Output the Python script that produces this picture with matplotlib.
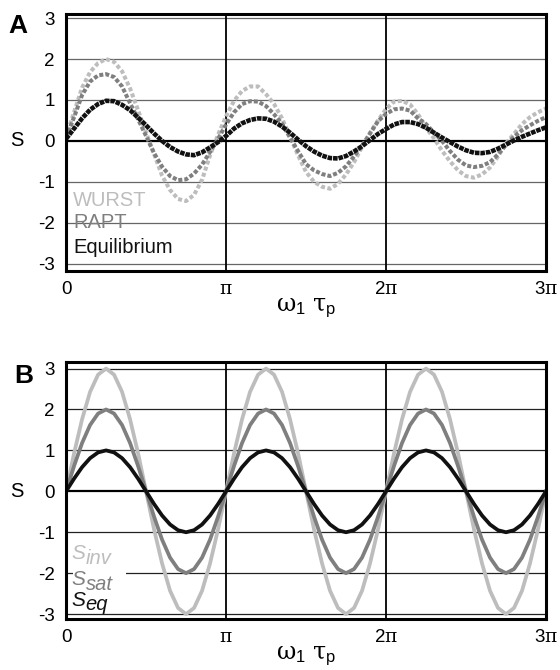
import numpy as np
import matplotlib
matplotlib.use("Agg")
import matplotlib.pyplot as plt
from matplotlib.patches import Rectangle

plt.rcParams['font.family'] = ['Liberation Sans', 'DejaVu Sans']
plt.rcParams['mathtext.fontset'] = 'custom'
plt.rcParams['mathtext.rm'] = 'Liberation Sans'
plt.rcParams['mathtext.it'] = 'DejaVu Serif'

# x positions in units of pi (sampling grid, 0.05 pi)
x_pi = np.linspace(0, 3, 61)

# panel A: simulated signals
wurst = [0.10, 0.70, 1.30, 1.68, 1.90, 2.00, 1.93, 1.70, 1.28, 0.75,
         0.20, -0.32, -0.85, -1.20, -1.42, -1.47, -1.32, -0.95, -0.35, 0.15,
         0.60, 0.98, 1.22, 1.33, 1.33, 1.14, 0.90, 0.55, 0.10, -0.35,
         -0.76, -1.00, -1.12, -1.17, -1.05, -0.82, -0.52, -0.15, 0.20, 0.50,
         0.78, 0.96, 0.98, 0.89, 0.65, 0.32, 0.06, -0.24, -0.50, -0.72,
         -0.86, -0.90, -0.82, -0.65, -0.38, -0.06, 0.17, 0.41, 0.58, 0.70,
         0.79]
rapt = [0.08, 0.58, 1.12, 1.45, 1.60, 1.63, 1.56, 1.33, 0.92, 0.53,
        0.12, -0.30, -0.63, -0.86, -0.96, -0.94, -0.80, -0.58, -0.27, 0.05,
        0.40, 0.70, 0.90, 0.97, 0.96, 0.85, 0.65, 0.42, 0.08, -0.25,
        -0.57, -0.72, -0.81, -0.86, -0.78, -0.62, -0.38, -0.12, 0.18, 0.48,
        0.66, 0.77, 0.79, 0.74, 0.55, 0.41, 0.20, 0.00, -0.25, -0.46,
        -0.60, -0.64, -0.61, -0.52, -0.33, -0.10, 0.10, 0.26, 0.38, 0.49,
        0.58]
equil = [0.05, 0.30, 0.55, 0.76, 0.90, 0.98, 0.97, 0.88, 0.75, 0.57,
         0.38, 0.18, 0.00, -0.15, -0.26, -0.33, -0.35, -0.28, -0.16, -0.03,
         0.12, 0.30, 0.43, 0.51, 0.55, 0.54, 0.47, 0.35, 0.20, 0.03,
         -0.13, -0.26, -0.36, -0.42, -0.43, -0.37, -0.26, -0.13, 0.02, 0.17,
         0.29, 0.40, 0.46, 0.46, 0.41, 0.32, 0.20, 0.08, -0.03, -0.14,
         -0.23, -0.29, -0.30, -0.27, -0.19, -0.09, 0.01, 0.10, 0.18, 0.26,
         0.33]

# panel B: ideal signals
s_eq = [0, 0.31, 0.59, 0.81, 0.95, 1, 0.95, 0.81, 0.59, 0.31,
        0, -0.31, -0.59, -0.81, -0.95, -1, -0.95, -0.81, -0.59, -0.31,
        0, 0.31, 0.59, 0.81, 0.95, 1, 0.95, 0.81, 0.59, 0.31,
        0, -0.31, -0.59, -0.81, -0.95, -1, -0.95, -0.81, -0.59, -0.31,
        0, 0.31, 0.59, 0.81, 0.95, 1, 0.95, 0.81, 0.59, 0.31,
        0, -0.31, -0.59, -0.81, -0.95, -1, -0.95, -0.81, -0.59, -0.31,
        0]
s_sat = [0, 0.62, 1.18, 1.62, 1.90, 2, 1.90, 1.62, 1.18, 0.62,
         0, -0.62, -1.18, -1.62, -1.90, -2, -1.90, -1.62, -1.18, -0.62,
         0, 0.62, 1.18, 1.62, 1.90, 2, 1.90, 1.62, 1.18, 0.62,
         0, -0.62, -1.18, -1.62, -1.90, -2, -1.90, -1.62, -1.18, -0.62,
         0, 0.62, 1.18, 1.62, 1.90, 2, 1.90, 1.62, 1.18, 0.62,
         0, -0.62, -1.18, -1.62, -1.90, -2, -1.90, -1.62, -1.18, -0.62,
         0]
s_inv = [0, 0.93, 1.76, 2.43, 2.85, 3, 2.85, 2.43, 1.76, 0.93,
         0, -0.93, -1.76, -2.43, -2.85, -3, -2.85, -2.43, -1.76, -0.93,
         0, 0.93, 1.76, 2.43, 2.85, 3, 2.85, 2.43, 1.76, 0.93,
         0, -0.93, -1.76, -2.43, -2.85, -3, -2.85, -2.43, -1.76, -0.93,
         0, 0.93, 1.76, 2.43, 2.85, 3, 2.85, 2.43, 1.76, 0.93,
         0, -0.93, -1.76, -2.43, -2.85, -3, -2.85, -2.43, -1.76, -0.93,
         0]

xtick_labels = ['0', r'$\pi$', r'2$\pi$', r'3$\pi$']
ytick_vals = [3, 2, 1, 0, -1, -2, -3]

light, mid, dark = '#bdbdbd', '#7f7f7f', '#111111'

fig = plt.figure(figsize=(5.6, 6.7), dpi=100)
axA = fig.add_axes([0.118, 0.5955, 0.857, 0.3836])
axB = fig.add_axes([0.118, 0.0761, 0.857, 0.3836])


def style_axes(ax, ylim, gridcol):
    ax.set_xlim(0, 3)
    ax.set_ylim(*ylim)
    for y in ytick_vals:
        if y == 0:
            ax.axhline(0, color='black', lw=1.6, zorder=1)
        else:
            ax.axhline(y, color=gridcol, lw=0.9, zorder=1)
    for xv in [1, 2]:
        ax.axvline(xv, color='black', lw=1.3, zorder=1)
    ax.set_xticks([0, 1, 2, 3])
    ax.set_xticklabels(xtick_labels)
    ax.set_yticks(ytick_vals)
    ax.set_yticklabels([str(v) for v in ytick_vals])
    ax.tick_params(length=0, labelsize=13.5)
    ax.tick_params(axis='y', pad=8)
    ax.tick_params(axis='x', pad=7)
    for sp in ax.spines.values():
        sp.set_linewidth(2.2)
        sp.set_color('black')
        sp.set_zorder(5)
    ax.set_xlabel(r'$\omega_1\ \tau_{\mathrm{p}}$', fontsize=17, labelpad=-1)
    ax.text(-0.103, 0, 'S', fontsize=14.5, ha='center', va='center',
            transform=ax.get_yaxis_transform())


style_axes(axA, (-3.18, 3.1), '#666666')
style_axes(axB, (-3.12, 3.16), '#222222')

# panel A dotted curves
axA.plot(x_pi, wurst, color=light, lw=2.9, ls=(0, (1, 0.6)),
         dash_capstyle='butt', zorder=2)
axA.plot(x_pi, rapt, color=mid, lw=2.9, ls=(0, (1, 0.5)),
         dash_capstyle='butt', zorder=3)
axA.plot(x_pi, equil, color=dark, lw=3.3, ls=(0, (1, 0.2)),
         dash_capstyle='butt', zorder=4)

tA = axA.get_yaxis_transform()
axA.text(0.015, -1.6, 'WURST', color=light, fontsize=14.5, va='baseline',
         transform=tA)
axA.text(0.015, -2.14, 'RAPT', color=mid, fontsize=14.5, va='baseline',
         transform=tA)
axA.text(0.015, -2.73, 'Equilibrium', color=dark, fontsize=14.5,
         va='baseline', transform=tA)

# panel B smooth curves
axB.plot(x_pi, s_inv, color=light, lw=2.7, zorder=2)
axB.plot(x_pi, s_sat, color=mid, lw=2.7, zorder=3)
axB.plot(x_pi, s_eq, color=dark, lw=2.7, zorder=4)

tB = axB.get_yaxis_transform()
# white patch hiding the -2 grid line behind the S_sat label
axB.add_patch(Rectangle((0.014, -2.12), 0.111, 0.24, transform=tB,
                        facecolor='white', edgecolor='none', zorder=1.5))
legend_b = [('inv', light, -1.66), ('sat', mid, -2.3), ('eq', dark, -2.79)]
for sub, col, yb in legend_b:
    axB.text(0.012, yb, 'S', color=col, fontsize=15, fontstyle='italic',
             va='baseline', transform=tB, zorder=7)
    axB.annotate(sub, xy=(0.012, yb), xycoords=tB, xytext=(10, -3.5),
                 textcoords='offset points', color=col, fontsize=14.5,
                 fontstyle='italic', va='baseline', zorder=7)

fig.text(0.0143, 0.9507, 'A', fontsize=19, fontweight='bold', ha='left',
         va='baseline')
fig.text(0.026, 0.428, 'B', fontsize=19, fontweight='bold', ha='left',
         va='baseline')

fig.savefig('out.png', dpi=100)
